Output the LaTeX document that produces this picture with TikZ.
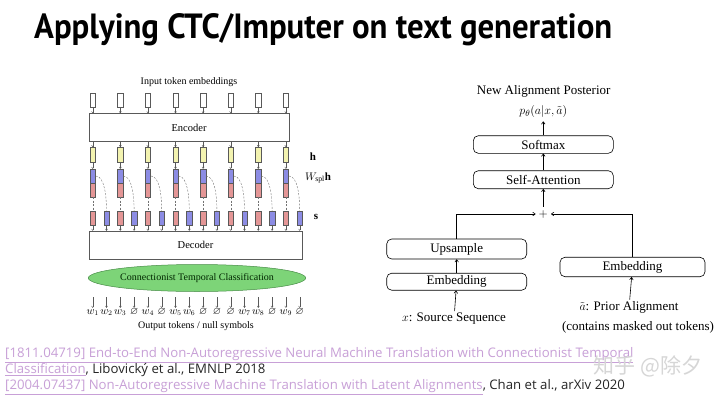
\documentclass[tikz,border=0pt]{standalone}
\usepackage{fontspec}
\usepackage{amssymb}
\usepackage{graphicx}
\setmainfont{Liberation Serif}
\newfontfamily\titlefont{PT Sans}
\newfontfamily\reffont{Open Sans}
\newfontfamily\cjk{Noto Sans CJK SC}
\usetikzlibrary{shapes.geometric,arrows.meta,positioning}
\definecolor{hyell}{RGB}{243,243,176}
\definecolor{wblue}{RGB}{140,140,228}
\definecolor{wred}{RGB}{228,150,150}
\definecolor{ctcgreen}{RGB}{125,212,120}
\definecolor{ctcdark}{RGB}{70,140,70}
\definecolor{linkpurple}{RGB}{200,160,215}
\newcommand{\reflink}[1]{\textcolor{linkpurple}{\underline{#1}}}

\begin{document}
\begin{tikzpicture}[x=1pt,y=-1pt,
            cell/.style={rectangle, draw=black!65, line width=0.4pt, minimum width=5.5pt, minimum height=14pt, inner sep=0pt},
            block/.style={rectangle, draw=black!65, line width=0.5pt, inner sep=0pt, font=\fontsize{10.5}{12}\selectfont},
            tip/.style={-{To[length=2pt,width=2.5pt]}, draw=black!65, line width=0.4pt},
            dashline/.style={dashed, dash pattern=on 2pt off 1.5pt, draw=black!55, line width=0.4pt},
            stage/.style={rectangle, rounded corners=5pt, draw, line width=0.6pt, minimum width=140pt, inner sep=0pt, font=\fontsize{13}{15}\selectfont},
            arrow/.style={-{To[length=3pt,width=4pt]}, line width=0.6pt},
            label/.style={inner sep=0pt, font=\fontsize{13}{15}\selectfont}
        ]
            \fill[white] (0,0) rectangle (720,397);
            \useasboundingbox (0,0) rectangle (720,397);

            \node[anchor=base west, inner sep=0pt] (title) at (34,38)
                {\resizebox{578pt}{\height}{\titlefont\bfseries\fontsize{35}{40}\selectfont Applying CTC/Imputer on text generation}};

            % CTC model
            \node[inner sep=1pt, font=\fontsize{10}{12}\selectfont] (intext) at (189,82) {Input token embeddings};
            \node[block, minimum width=200pt, minimum height=28pt] (enc) at (189,127.5) {Encoder};
            \node[block, minimum width=213pt, minimum height=28pt] (dec) at (195.5,245) {Decoder};
            \node[ellipse, draw=ctcdark, fill=ctcgreen, line width=0.5pt, minimum width=216pt, minimum height=27pt, inner sep=0pt,
                  text=black!85!green, font=\fontsize{10}{12}\selectfont] (ctc) at (197,278) {Connectionist Temporal Classification};
            \foreach \i in {0,...,7}{
                \pgfmathsetmacro\cx{92.7+27.6*\i}
                \node[cell, fill=white] (in\i) at (\cx,100) {};
                \node[cell, fill=hyell, minimum height=15pt] (h\i) at (\cx,154.7) {};
                \node[cell, fill=wblue] (wb\i) at (\cx,176) {};
                \node[cell, fill=wred] (wr\i) at (\cx,190) {};
                \node[cell, fill=wred] (sr\i) at (\cx,218) {};
                \node[cell, fill=wblue] (sb\i) at (\cx+13.8,218) {};
                \draw[tip] (in\i) -- (in\i |- enc.north);
                \draw[tip] (h\i |- enc.south) -- (h\i);
                \draw[tip] (h\i) -- (wb\i);
                \draw[dashline] (wr\i) -- (sr\i);
                \draw[dashline] (wb\i.east) .. controls +(9,0) and +(0,-14) .. (sb\i.north);
                \draw[tip] (sr\i) -- (sr\i |- dec.north);
                \draw[tip] (sb\i) -- (sb\i |- dec.north);
            }
            \node[font=\fontsize{11}{12}\selectfont] (hlab) at (313,157) {$\mathbf{h}$};
            \node[font=\fontsize{11}{12}\selectfont] (wlab) at (318,178) {$W_{\mathrm{spl}}\mathbf{h}$};
            \node[font=\fontsize{11}{12}\selectfont] (slab) at (316,217) {$\mathbf{s}$};
            \foreach \t [count=\j from 0] in {w_1,w_2,w_3,\varnothing,w_4,\varnothing,w_5,w_6,\varnothing,\varnothing,\varnothing,w_7,w_8,\varnothing,w_9,\varnothing}{
                \coordinate (ot\j) at ({92.7+13.8*\j},297);
                \node[anchor=base, inner sep=1pt, text height=5pt, text depth=2pt, font=\fontsize{10.5}{12}\selectfont] (o\j) at ({92.7+13.8*\j},314) {$\t$};
                \draw[tip] (ot\j) -- (o\j);
            }
            \node[inner sep=1pt, font=\fontsize{10}{12}\selectfont] (outtext) at (196,326) {Output tokens / null symbols};

            % Imputer model
            \node[label] (posterior) at (543.7,91.2) {New Alignment Posterior};
            \node[label] (ptheta) at (543.3,111.2) {$p_\theta(a|x,\tilde{a})$};
            \node[stage, minimum height=17.6pt] (softmax) at (543.3,144.5) {Softmax};
            \node[stage, minimum height=18pt] (selfatt) at (543.3,179.7) {Self-Attention};
            \node[inner sep=3pt, font=\fontsize{13}{13}\selectfont] (plus) at (543.3,214) {$+$};
            \node[stage, minimum height=20pt] (upsample) at (456.7,249) {Upsample};
            \node[stage, minimum height=17pt] (embx) at (456.7,281.7) {Embedding};
            \node[stage, minimum width=145pt, minimum height=19.5pt] (emba) at (632.5,267) {Embedding};
            \node[label] (srcseq) at (454,319) {$x$: Source Sequence};
            \node[label] (prior) at (629,307.8) {$\tilde{a}$: Prior Alignment};
            \node[label] (priornote) at (638,327.2) {(contains masked out tokens)};

            \draw[arrow, shorten >=4pt] (softmax) -- (ptheta);
            \draw[arrow] (selfatt) -- (softmax);
            \draw[arrow] (plus) -- (selfatt);
            \draw[arrow] (upsample.north) |- (plus.west);
            \draw[arrow] (emba.north) |- (plus.east);
            \draw[arrow] (embx) -- (upsample);
            \draw[arrow, shorten <=2pt] (srcseq) -- (embx);
            \draw[arrow, shorten <=2pt] (prior) -- (emba);

            % references
            \node[anchor=base west, inner sep=0pt, font=\reffont\fontsize{13.2}{15}\selectfont] (ref1) at (5,357)
                {\reflink{[1811.04719] End-to-End Non-Autoregressive Neural Machine Translation with Connectionist Temporal}};
            \node[anchor=base west, inner sep=0pt, font=\reffont\fontsize{13.2}{15}\selectfont, text=black!85] (ref2) at (5,373)
                {\reflink{Classification}, Libovický et al., EMNLP 2018};
            \node[anchor=base west, inner sep=0pt, font=\reffont\fontsize{13.2}{15}\selectfont, text=black!85] (ref3) at (5,389)
                {\reflink{[2004.07437] Non-Autoregressive Machine Translation with Latent Alignments}, Chan et al., arXiv 2020};
            \node[text=black!16, font=\cjk\fontsize{21}{21}\selectfont] (mark) at (648,366) {知乎 @除夕};
        \end{tikzpicture}
\end{document}
